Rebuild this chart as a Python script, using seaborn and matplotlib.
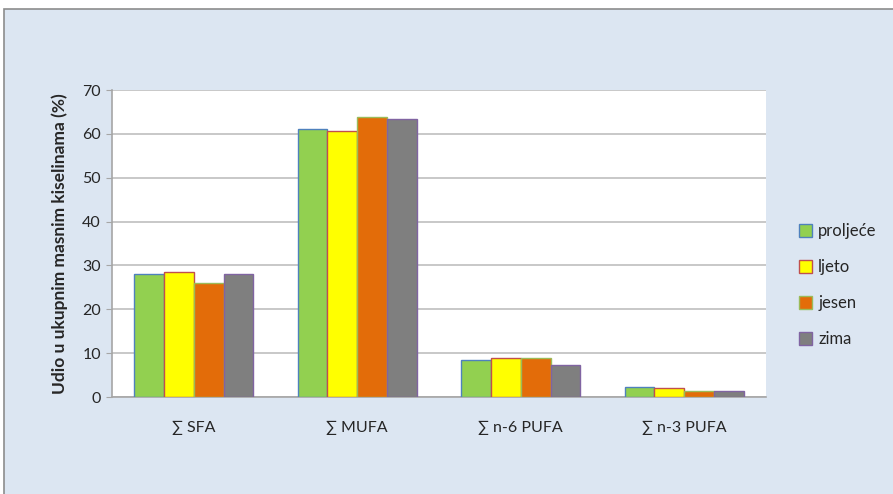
import matplotlib
matplotlib.use("Agg")
import matplotlib.pyplot as plt
import seaborn as sns
import pandas as pd
from matplotlib.patches import Patch, Rectangle

categories = ["∑ SFA", "∑ MUFA", "∑ n-6 PUFA", "∑ n-3 PUFA"]
seasons = ["proljeće", "ljeto", "jesen", "zima"]
proljece = [28.0, 61.0, 8.4, 2.3]
ljeto = [28.6, 60.6, 8.8, 2.0]
jesen = [26.0, 63.8, 9.0, 1.4]
zima = [28.0, 63.5, 7.2, 1.3]

fill_colors = ["#92D050", "#FFFF00", "#E36C09", "#7F7F7F"]
edge_colors = ["#4F81BD", "#C0504D", "#9BBB59", "#8064A2"]

rows = []
for season, vals in zip(seasons, [proljece, ljeto, jesen, zima]):
    for cat, v in zip(categories, vals):
        rows.append({"kategorija": cat, "sezona": season, "udio": v})
df = pd.DataFrame(rows)

sns.set_style("white")
plt.rcParams["font.family"] = ["Lato", "DejaVu Sans"]

fig = plt.figure(figsize=(8.93, 4.94), dpi=100)
fig.patch.set_facecolor("white")
panel = Rectangle((4 / 893, -0.01), 1.0, 1 - 9.5 / 494 + 0.01, transform=fig.transFigure,
                  facecolor="#DCE6F2", edgecolor="#8C8C8C", linewidth=1.2, zorder=-10)
fig.patches.append(panel)

ax = fig.add_axes([112 / 893, 97 / 494, 654 / 893, 307 / 494])
ax.set_facecolor("white")

sns.barplot(data=df, x="kategorija", y="udio", hue="sezona", order=categories,
            hue_order=seasons, palette=fill_colors, saturation=1, width=0.73, gap=0,
            legend=False, ax=ax, zorder=3)

for cont, ec in zip(ax.containers, edge_colors):
    for bar in cont:
        bar.set_edgecolor(ec)
        bar.set_linewidth(1.0)

ax.set_ylim(0, 70)
ax.set_yticks(range(0, 71, 10))
ax.yaxis.grid(True, color="#BFBFBF", linewidth=1.2, zorder=0)
ax.set_axisbelow(True)
for s in ["top", "right"]:
    ax.spines[s].set_visible(False)
for s in ["left", "bottom"]:
    ax.spines[s].set_color("#A6A6A6")
    ax.spines[s].set_linewidth(1.2)
ax.tick_params(axis="y", left=True, length=4, color="#A6A6A6", labelsize=11.5, pad=4)
ax.tick_params(axis="x", bottom=False, labelsize=11.5, pad=14)
ax.set_xlabel("")
ax.set_ylabel("Udio u ukupnim masnim kiselinama (%)", fontsize=12.5, fontweight="bold", labelpad=10)

handles = [Patch(facecolor=f, edgecolor=e, linewidth=1.0) for f, e in zip(fill_colors, edge_colors)]
fig.legend(handles, seasons, loc="center left", bbox_to_anchor=(784 / 893, 1 - 285 / 494),
           frameon=False, fontsize=12, labelspacing=1.2, handlelength=0.8, handleheight=0.8,
           handletextpad=0.35)

fig.savefig("out.png", dpi=100)
